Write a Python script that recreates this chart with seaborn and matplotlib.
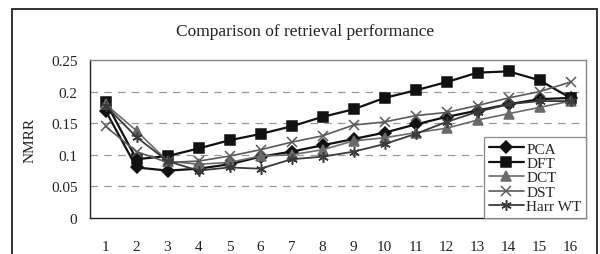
import numpy as np
import pandas as pd
import matplotlib
matplotlib.use("Agg")
import matplotlib.pyplot as plt
import seaborn as sns
from matplotlib.patches import Rectangle

# data
steps = list(range(1, 17))
pca = [0.170, 0.080, 0.075, 0.078, 0.085, 0.097, 0.105, 0.115, 0.125, 0.135, 0.148, 0.160, 0.170, 0.180, 0.188, 0.190]
dft = [0.184, 0.093, 0.098, 0.110, 0.123, 0.133, 0.145, 0.160, 0.172, 0.190, 0.202, 0.215, 0.230, 0.232, 0.218, 0.190]
dct = [0.180, 0.138, 0.090, 0.085, 0.088, 0.098, 0.100, 0.108, 0.122, 0.127, 0.135, 0.142, 0.155, 0.165, 0.175, 0.185]
dst = [0.145, 0.105, 0.088, 0.090, 0.098, 0.108, 0.120, 0.130, 0.147, 0.152, 0.162, 0.167, 0.178, 0.190, 0.200, 0.215]
harr = [0.178, 0.128, 0.090, 0.075, 0.080, 0.078, 0.093, 0.097, 0.105, 0.117, 0.133, 0.152, 0.168, 0.180, 0.185, 0.185]
methods = ["PCA", "DFT", "DCT", "DST", "Harr WT"]
series = [pca, dft, dct, dst, harr]

sns.set_style("white")
plt.rcParams['font.family'] = ['Liberation Serif', 'DejaVu Serif']

fig = plt.figure(figsize=(6, 2.55), dpi=100)
ax = fig.add_axes([90 / 600, 1 - 219 / 255, (586 - 90) / 600, (219 - 61) / 255])

colors = {"PCA": "#111111", "DFT": "#111111", "DCT": "#6a6a6a", "DST": "#5a5a5a", "Harr WT": "#3a3a3a"}
markers = {"PCA": "D", "DFT": "s", "DCT": "^", "DST": "x", "Harr WT": (6, 2, 0)}
widths = {"PCA": 1.6, "DFT": 1.6, "DCT": 1.2, "DST": 1.2, "Harr WT": 1.3}
msizes = {"PCA": 6, "DFT": 6.5, "DCT": 6.5, "DST": 7, "Harr WT": 7.5}

for m, vals in zip(methods, series):
    sns.lineplot(x=steps, y=vals, color=colors[m], marker=markers[m], lw=widths[m],
                 markersize=msizes[m], markeredgecolor=colors[m], markeredgewidth=1.1,
                 ax=ax, label=m)

ax.set_xlim(0.5, 16.5)
ax.set_ylim(0, 0.25)
ax.set_xticks(steps)
ax.set_xticklabels([str(s) for s in steps])
ax.set_xticks(np.arange(0.5, 17, 1), minor=True)
ax.set_yticks([0, 0.05, 0.1, 0.15, 0.2, 0.25])
ax.set_yticklabels(["0", "0.05", "0.1", "0.15", "0.2", "0.25"])
ax.tick_params(axis="x", which="major", length=0, pad=16, labelsize=11, colors="#222222")
ax.tick_params(axis="x", which="minor", length=3, direction="in", color="#444444")
ax.tick_params(axis="y", length=0, pad=9, labelsize=11, colors="#222222")

for yv in [0.05, 0.1, 0.15, 0.2]:
    ax.axhline(yv, color="#999999", lw=0.9, ls=(0, (6, 5)), zorder=0)

for side in ["top", "right"]:
    ax.spines[side].set_color("#888888")
    ax.spines[side].set_linewidth(1.0)
for side in ["left", "bottom"]:
    ax.spines[side].set_color("#222222")
    ax.spines[side].set_linewidth(1.0)

ax.set_xlabel("")
ax.set_ylabel("NMRR", fontsize=11, labelpad=10, color="#222222")

leg = ax.legend(loc="lower right", borderaxespad=0, fontsize=11,
                frameon=True, fancybox=False, framealpha=1, edgecolor="#888888",
                handlelength=2.3, handletextpad=0.15, labelspacing=0.05,
                borderpad=0.3)
leg.get_frame().set_linewidth(0.9)

fig.text(305 / 600, 1 - 32 / 255, "Comparison of retrieval performance",
         ha="center", va="center", fontsize=12.5, color="#222222")

# outer chart border (open at the bottom)
fig.patches.append(Rectangle((12 / 600, -0.1), (597 - 12) / 600, 1.1 - 10 / 255,
                             transform=fig.transFigure, fill=False,
                             edgecolor="#222222", lw=1.3))

fig.savefig("out.png", dpi=100)
